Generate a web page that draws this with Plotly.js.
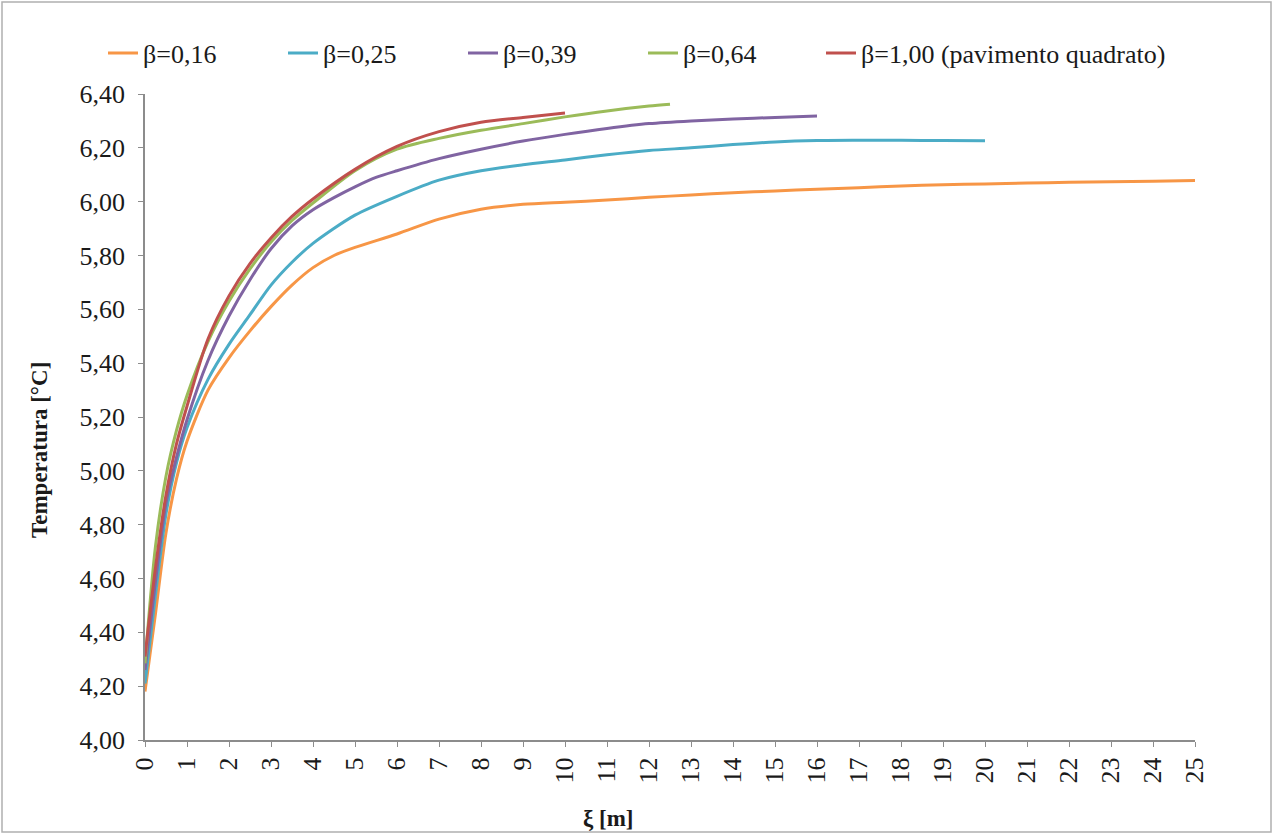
<!DOCTYPE html>
<html>
<head>
<meta charset="utf-8">
<script src="https://cdn.plot.ly/plotly-3.0.1.min.js"></script>
<style>
  html, body { margin: 0; padding: 0; background: #ffffff; }
  #chart { width: 1274px; height: 834px; }
</style>
</head>
<body>
<div id="chart"></div>
<script>
// ---- Data ----
const seriesNames = ["β=0,16", "β=0,25", "β=0,39", "β=0,64", "β=1,00 (pavimento quadrato)"];

const xi_016 = [0, 0.25, 0.5, 0.75, 1, 1.5, 2, 2.5, 3, 3.5, 4, 4.5, 5, 6, 7, 8, 9, 10, 11, 12, 13, 14, 15, 16, 17, 18, 19, 20, 21, 22, 23, 24, 25];
const T_016  = [4.18, 4.47, 4.77, 4.97, 5.11, 5.30, 5.42, 5.52, 5.61, 5.69, 5.755, 5.80, 5.83, 5.88, 5.935, 5.972, 5.99, 5.998, 6.006, 6.016, 6.025, 6.033, 6.04, 6.046, 6.052, 6.058, 6.063, 6.066, 6.069, 6.072, 6.074, 6.076, 6.079];

const xi_025 = [0, 0.25, 0.5, 0.75, 1, 1.5, 2, 2.5, 3, 3.5, 4, 5, 6, 7, 8, 9, 10, 11, 12, 13, 14, 15, 16, 17, 18, 19, 20];
const T_025  = [4.21, 4.54, 4.84, 5.03, 5.16, 5.34, 5.47, 5.58, 5.69, 5.775, 5.845, 5.95, 6.02, 6.08, 6.115, 6.137, 6.155, 6.174, 6.19, 6.20, 6.212, 6.222, 6.227, 6.228, 6.228, 6.227, 6.226];

const xi_039 = [0, 0.25, 0.5, 0.75, 1, 1.5, 2, 2.5, 3, 3.5, 4, 4.5, 5, 5.5, 6, 7, 8, 9, 10, 11, 12, 13, 14, 15, 16];
const T_039  = [4.26, 4.59, 4.88, 5.05, 5.19, 5.41, 5.575, 5.71, 5.825, 5.91, 5.97, 6.015, 6.055, 6.09, 6.115, 6.16, 6.195, 6.225, 6.25, 6.272, 6.29, 6.30, 6.307, 6.313, 6.318];

const xi_064 = [0, 0.25, 0.5, 0.75, 1, 1.5, 2, 2.5, 3, 3.5, 4, 5, 6, 7, 8, 9, 10, 11, 12, 12.5];
const T_064  = [4.285, 4.72, 4.98, 5.15, 5.28, 5.48, 5.63, 5.75, 5.85, 5.93, 5.995, 6.115, 6.195, 6.235, 6.265, 6.29, 6.315, 6.337, 6.355, 6.362];

const xi_100 = [0, 0.25, 0.5, 0.75, 1, 1.5, 2, 2.5, 3, 3.5, 4, 5, 6, 7, 8, 9, 10];
const T_100  = [4.31, 4.64, 4.91, 5.10, 5.24, 5.49, 5.65, 5.77, 5.865, 5.945, 6.01, 6.12, 6.205, 6.26, 6.295, 6.313, 6.329];

const xTickVals = [0,1,2,3,4,5,6,7,8,9,10,11,12,13,14,15,16,17,18,19,20,21,22,23,24,25];
const yTickVals = [4.0, 4.2, 4.4, 4.6, 4.8, 5.0, 5.2, 5.4, 5.6, 5.8, 6.0, 6.2, 6.4];

const colors = ["#F79646", "#4BACC6", "#8064A2", "#9BBB59", "#C0504D"];

// ---- Geometry (pixels) ----
const W = 1274, H = 834;
const mL = 145, mR = 79, mT = 94, mB = 94;
const pw = W - mL - mR, ph = H - mT - mB;
const px = v => (v - mL) / pw;          // pixel x -> paper x
const py = v => (H - mB - v) / ph;      // pixel y -> paper y

const fontFam = "Liberation Serif";
const txtColor = "#1a1a1a";
const axisGray = "#8c8c8c";

// ---- Traces (each in its own legend so the entries sit where the reference has them) ----
const legendIds = ["legend", "legend2", "legend3", "legend4", "legend5"];
const legendLeft = [103, 283, 463, 643, 821];
const xs = [xi_016, xi_025, xi_039, xi_064, xi_100];
const ys = [T_016, T_025, T_039, T_064, T_100];
const traces = xs.map((x, i) => ({
  type: "scatter",
  mode: "lines",
  name: seriesNames[i],
  legend: legendIds[i],
  x: x,
  y: ys[i],
  line: { color: colors[i], width: 3, shape: "spline", smoothing: 0.8 },
  hoverinfo: "x+y+name"
}));

const layout = {
  width: W,
  height: H,
  margin: { l: mL, r: mR, t: mT, b: mB, autoexpand: false },
  paper_bgcolor: "#ffffff",
  plot_bgcolor: "#ffffff",
  separators: ", ",
  font: { family: fontFam, size: 24, color: txtColor },
  showlegend: true,
  xaxis: {
    range: [0, 25],
    tickmode: "array",
    tickvals: xTickVals,
    ticktext: xTickVals.map(String),
    tickangle: -90,
    ticks: "outside",
    ticklen: 5,
    tickcolor: axisGray,
    showline: true,
    linecolor: axisGray,
    linewidth: 2,
    showgrid: false,
    zeroline: false,
    tickfont: { family: fontFam, size: 26, color: txtColor },
    fixedrange: true
  },
  yaxis: {
    range: [4.0, 6.4],
    tickmode: "array",
    tickvals: yTickVals,
    tickformat: ".2f",
    ticks: "outside",
    ticklen: 5,
    tickcolor: axisGray,
    ticklabelstandoff: 8,
    showline: true,
    linecolor: axisGray,
    linewidth: 1.5,
    showgrid: false,
    zeroline: false,
    tickfont: { family: fontFam, size: 26, color: txtColor },
    fixedrange: true
  },
  annotations: [
    {
      text: "<b>Temperatura [°C]</b>",
      xref: "paper", yref: "paper",
      x: px(40), y: py(450),
      xanchor: "center", yanchor: "middle",
      textangle: -90,
      showarrow: false,
      font: { family: fontFam, size: 23, color: txtColor }
    },
    {
      text: "<b>ξ [m]</b>",
      xref: "paper", yref: "paper",
      x: px(608), y: py(818),
      xanchor: "center", yanchor: "middle",
      showarrow: false,
      font: { family: fontFam, size: 23, color: txtColor }
    }
  ],
  shapes: [
    {
      type: "rect",
      xref: "paper", yref: "paper",
      x0: px(2), x1: px(1271),
      y0: py(832), y1: py(2),
      line: { color: "#b0b0b0", width: 1.5 },
      fillcolor: "rgba(0,0,0,0)",
      layer: "below"
    }
  ]
};

legendIds.forEach((id, i) => {
  layout[id] = {
    orientation: "h",
    xref: "container",
    x: legendLeft[i] / W,
    xanchor: "left",
    y: py(53),
    yanchor: "middle",
    font: { family: fontFam, size: 26, color: txtColor },
    bgcolor: "rgba(0,0,0,0)"
  };
});

Plotly.newPlot("chart", traces, layout, { displayModeBar: false });
</script>
</body>
</html>
